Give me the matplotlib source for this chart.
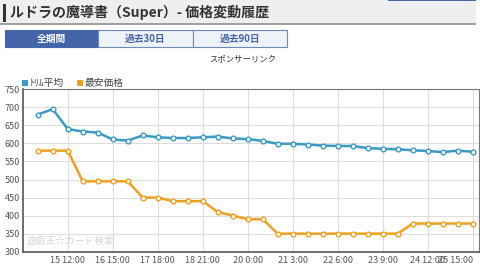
import matplotlib
matplotlib.use("Agg")
import matplotlib.pyplot as plt
from matplotlib.patches import Rectangle

plt.rcParams['font.family'] = ['Noto Sans CJK JP', 'DejaVu Sans']

title = "ルドラの魔導書（Super）- 価格変動履歴"
tabs = ["全期間", "過去30日", "過去90日"]
series_names = ["ﾄﾘﾑ平均", "最安価格"]
trim_avg = [680, 695, 640, 633, 630, 611, 608, 622, 617, 615, 615, 617, 619, 614,
            612, 607, 599, 599, 597, 594, 593, 593, 587, 585, 584, 581, 579, 576, 580, 577]
min_price = [580, 580, 580, 495, 495, 495, 495, 450, 450, 440, 440, 440, 410, 400,
             390, 390, 350, 350, 350, 350, 350, 350, 350, 350, 350, 378, 378, 378, 378, 378]
tick_idx = [2, 5, 8, 11, 14, 17, 20, 23, 26, 29]
tick_labels = ["15 12:00", "16 15:00", "17 18:00", "18 21:00", "20 0:00",
               "21 3:00", "22 6:00", "23 9:00", "24 12:00", "25 15:00"]
y_ticks = [300, 350, 400, 450, 500, 550, 600, 650, 700, 750]

W, H = 480, 265
fig = plt.figure(figsize=(W / 100, H / 100), dpi=100)
fig.patch.set_facecolor("white")

def fx(x):
    return x / W

def fy(y):
    return 1 - y / H

# header
fig.patches.append(Rectangle((fx(0), fy(23.5)), fx(476), 23.5 / H, transform=fig.transFigure,
                             facecolor="#efefef", edgecolor="none"))
fig.patches.append(Rectangle((fx(0), fy(24.5)), fx(476), 1.2 / H, transform=fig.transFigure,
                             facecolor="#a0a0a0", edgecolor="none"))
fig.patches.append(Rectangle((fx(3), fy(22)), fx(2.5), 18 / H, transform=fig.transFigure,
                             facecolor="#333333", edgecolor="none"))
fig.patches.append(Rectangle((fx(388), fy(1)), fx(88), 1 / H, transform=fig.transFigure,
                             facecolor="#4466a8", edgecolor="none"))
fig.text(fx(9.5), fy(12.5), title, fontsize=10.1, fontweight="bold", color="#333333",
         va="center", ha="left")

# tabs
tab_x = [5, 98, 193, 287]
for i, t in enumerate(tabs):
    x0, x1 = tab_x[i], tab_x[i + 1]
    if i == 0:
        fc, tc, ec = "#4466a8", "white", "#4466a8"
    else:
        fc, tc, ec = "#eef3f8", "#4466a8", "#6f8ab8"
    fig.patches.append(Rectangle((fx(x0), fy(47)), fx(x1 - x0), 17 / H, transform=fig.transFigure,
                                 facecolor=fc, edgecolor=ec, linewidth=0.8))
    fig.text(fx((x0 + x1) / 2), fy(38.5), t, fontsize=7, fontweight="bold", color=tc,
             ha="center", va="center")

fig.text(fx(243), fy(58.5), "スポンサーリンク", fontsize=6, color="#333333", ha="center", va="center")

# legend
colors = ["#3a9ac6", "#f0a020"]
leg_x = [22, 77]
for i, name in enumerate(series_names):
    fig.patches.append(Rectangle((fx(leg_x[i]), fy(86)), fx(6), 6 / H, transform=fig.transFigure,
                                 facecolor=colors[i], edgecolor="none"))
    fig.text(fx(leg_x[i] + 8), fy(83), name, fontsize=7, color="#444444", ha="left", va="center")

# axes
ax = fig.add_axes([fx(23), fy(251.7), fx(479 - 23), (251.7 - 89.3) / H])
x = list(range(len(trim_avg)))
ax.plot(x, trim_avg, color=colors[0], linewidth=1.8, marker="o", markersize=3.4,
        markerfacecolor="white", markeredgecolor=colors[0], markeredgewidth=1.0, zorder=3)
ax.plot(x, min_price, color=colors[1], linewidth=1.8, marker="o", markersize=3.4,
        markerfacecolor="white", markeredgecolor=colors[1], markeredgewidth=1.0, zorder=3)
ax.set_xlim(-0.98, 29.42)
ax.set_ylim(300, 750)
ax.set_yticks(y_ticks)
ax.set_yticklabels([str(v) for v in y_ticks], fontsize=6.5, color="#555555")
ax.set_xticks(tick_idx)
ax.set_xticklabels(tick_labels, fontsize=6.5, color="#555555")
labels = ax.get_xticklabels()
labels[-1].set_horizontalalignment("right")
labels[-1].set_x(29.42)
ax.tick_params(axis="both", length=0, pad=2)
ax.tick_params(axis="x", pad=3)
ax.grid(True, color="#dddddd", linewidth=0.8)
ax.set_axisbelow(True)
for s in ["left", "bottom"]:
    ax.spines[s].set_color("#555555")
    ax.spines[s].set_linewidth(1.2)
for s in ["top", "right"]:
    ax.spines[s].set_color("#777777")
    ax.spines[s].set_linewidth(0.8)

ax.text(0.007, 0.035, "遊戯王☆カード検索", transform=ax.transAxes, fontsize=7,
        color="#d4d4d4", ha="left", va="bottom")

fig.savefig("out.png", dpi=100)
